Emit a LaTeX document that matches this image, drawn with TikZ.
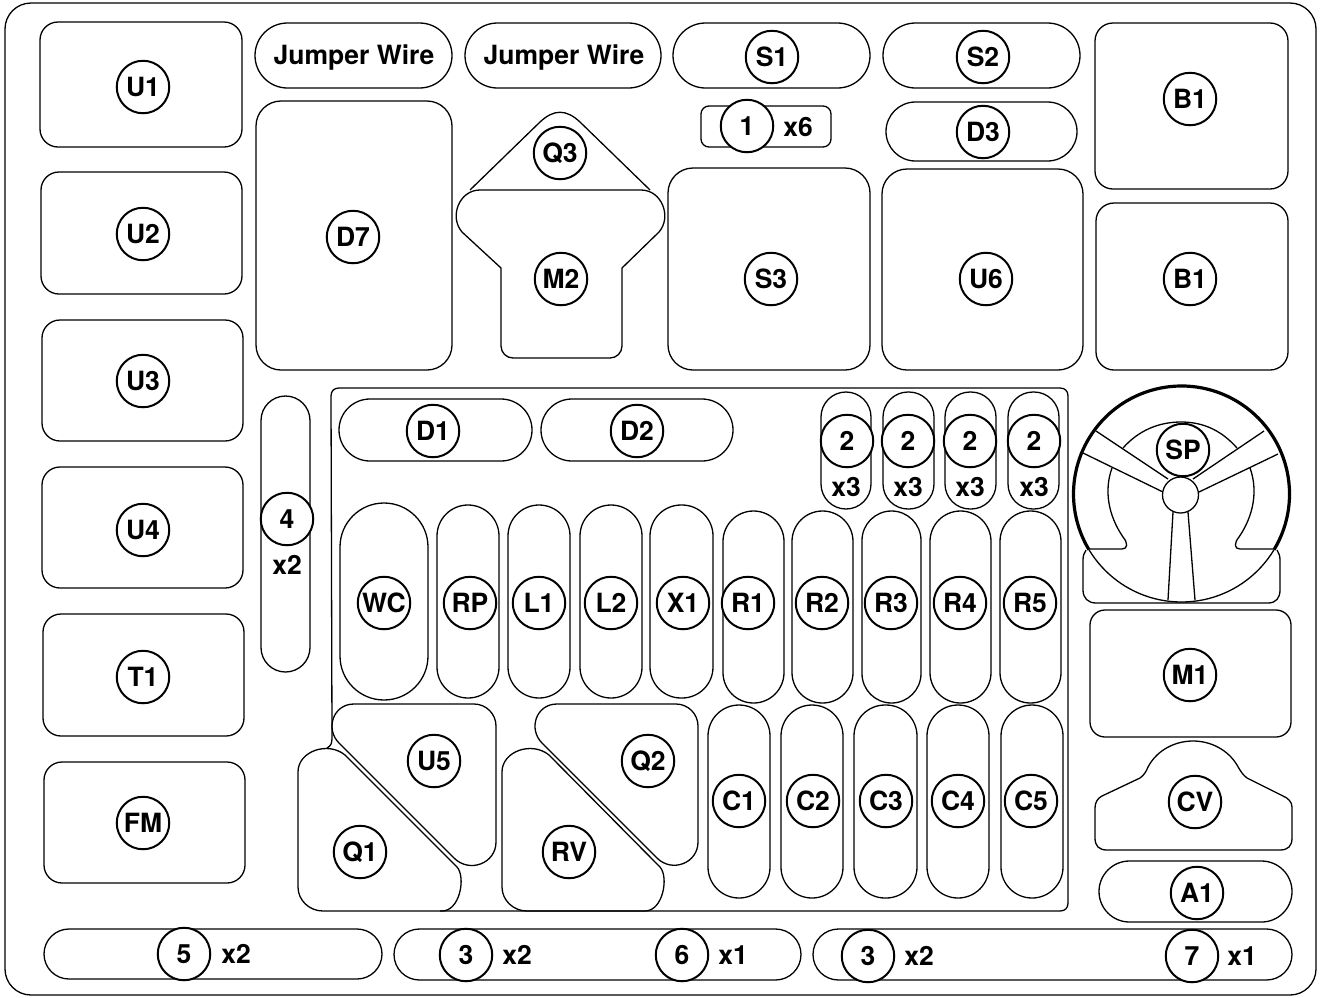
\documentclass[tikz,border=0pt]{standalone}
\usepackage{fontspec}
\setmainfont{TeX Gyre Heros}
\usetikzlibrary{calc}
\tikzset{
  part/.style={draw=black,line width=1.3pt,line join=round},
  lbl/.style={circle,draw=black,fill=white,line width=2pt,minimum size=52.5pt,inner sep=0pt,text height=19pt,text depth=0pt,font=\fontsize{26.5}{30}\bfseries\selectfont},
  txt/.style={inner sep=0pt,text height=19pt,text depth=0pt,font=\fontsize{26.5}{30}\bfseries\selectfont}
}
\newcommand\bx[5]{\draw[part,rounded corners=#5pt] (#1,#2) rectangle (#3,#4);}
\def\rndc#1#2#3#4{-- (#1) .. controls ($(#1)!#4!(#2)$) and ($(#3)!#4!(#2)$) .. (#3)}
\begin{document}
\begin{tikzpicture}[x=1pt,y=-1pt]
\useasboundingbox (0,0) rectangle (1323,997);
% outer frame
\bx{5}{3}{1316}{995}{26}
% left column
\bx{40}{22}{242}{147}{18}
\bx{41}{172}{242}{294}{18}
\bx{42}{320}{243}{441}{18}
\bx{42}{467}{243}{588}{18}
\bx{43}{614}{244}{736}{18}
\bx{44}{762}{245}{883}{18}
% top row
\bx{255}{23}{452}{88}{32.5}
\bx{465}{23}{661}{88}{32.5}
\bx{673}{23}{870}{88}{32.5}
\bx{883}{23}{1080}{88}{32.5}
\bx{1095}{23}{1288}{189}{18}
\bx{1096}{203}{1288}{370}{18}
\bx{701}{106}{831}{147}{8}
\bx{886}{102}{1077}{161}{29.5}
\bx{668}{168}{870}{370}{25}
\bx{882}{169}{1083}{370}{25}
\bx{256}{101}{452}{370}{25}
% Q3 and M2
\draw[part] (470,190) -- (540,122) .. controls (554,109) and (566,109) .. (580,122) -- (650,190);
\draw[part] (480,190) -- (641,190) .. controls (662,190) and (672,217) .. (659,232)
  -- (622,268) \rndc{622,346}{622,358}{610,358}{.55} \rndc{513,358}{501,358}{501,346}{.55}
  -- (501,268) -- (462,232) .. controls (449,217) and (459,190) .. (480,190) -- cycle;
% bottom row
\bx{44}{929}{382}{979}{25}
\bx{394}{929}{801}{980}{25.5}
\bx{813}{929}{1292}{980}{25.5}
\bx{1099}{861}{1292}{922}{30.5}
\bx{1090}{610}{1291}{737}{15}
% CV
\draw[part] (1107,850) -- (1280,850) .. controls (1288,850) and (1292,846) .. (1292,838)
  -- (1292,807) .. controls (1292,802) and (1288,798) .. (1283,796)
  -- (1247,778) .. controls (1243,775) and (1241,772) .. (1237,765)
  .. controls (1228,750) and (1211,741) .. (1193,741)
  .. controls (1175,741) and (1157,750) .. (1148,767)
  .. controls (1146,772) and (1144,775) .. (1140,778)
  -- (1102,796) .. controls (1098,798) and (1095,802) .. (1095,808)
  -- (1095,838) .. controls (1095,846) and (1099,850) .. (1107,850) -- cycle;
% large tray
\draw[part] (327,748) .. controls (331,746) and (332,743) .. (332,738) -- (331,396)
  .. controls (331,391) and (334,388) .. (339,388) -- (1060,388)
  .. controls (1065,388) and (1068,391) .. (1068,396) -- (1068,903)
  .. controls (1068,908) and (1065,911) .. (1060,911) -- (440,911);
\bx{261}{396}{310}{672}{24.5}
\bx{339}{399}{532}{461}{31}
\bx{541}{399}{733}{461}{31}
\bx{821}{392}{871}{509}{25}
\bx{883}{392}{934}{509}{25}
\bx{945}{392}{996}{509}{25}
\bx{1008}{392}{1059}{509}{25}
\bx{340}{503}{428}{700}{44}
\bx{437}{505}{499}{698}{31}
\bx{508}{505}{570}{698}{31}
\bx{580}{505}{642}{698}{31}
\bx{650}{505}{713}{698}{31}
\bx{723}{511}{784}{703}{30.5}
\bx{792}{511}{853}{703}{30.5}
\bx{862}{511}{921}{703}{29.5}
\bx{930}{511}{991}{703}{30.5}
\bx{1000}{511}{1061}{703}{30.5}
\bx{708}{705}{770}{898}{31}
\bx{781}{705}{843}{898}{31}
\bx{854}{705}{917}{898}{31}
\bx{927}{705}{989}{898}{31}
\bx{1001}{705}{1063}{898}{31}
% U5
\draw[part] (420,704) \rndc{474,704}{496,704}{496,726}{.55} \rndc{496,842}{496,900}{454,858}{.369}
  -- (339,743) .. controls (325,729) and (333,704) .. (354,704) -- cycle;
% Q2
\draw[part] (620,704) \rndc{676,704}{698,704}{698,726}{.55} \rndc{698,842}{698,899}{657,858}{.369}
  -- (542,743) .. controls (528,729) and (536,704) .. (557,704) -- cycle;
% Q1
\draw[part] (298,830) -- (298,772) .. controls (298,751) and (328,741) .. (345,755)
  -- (457,867) .. controls (466,877) and (460,911) .. (442,911)
  \rndc{323,911}{298,911}{298,887}{.55} -- cycle;
% RV
\draw[part] (502,830) -- (502,772) .. controls (502,751) and (532,741) .. (549,755)
  -- (660,867) .. controls (669,877) and (663,911) .. (645,911)
  \rndc{527,911}{502,911}{502,887}{.55} -- cycle;
% speaker
\coordinate (spc) at (1181.5,494);
\draw[part] (spc) circle[radius=108];
\draw[black,line width=3.2pt] (spc) ++(31:108) arc[start angle=31,end angle=-211,radius=108];
\draw[part] (1086,550) .. controls (1084,553) and (1083,556) .. (1083,560) -- (1083,590)
  .. controls (1083,598) and (1088,603) .. (1096,603) -- (1268,603)
  .. controls (1276,603) and (1280,598) .. (1280,590) -- (1280,560)
  .. controls (1280,556) and (1279,553) .. (1277,550);
\draw[part] (1096,431) -- (1168,479);
\draw[part] (1083,453) -- (1163,492);
\draw[part] (1264,431) -- (1193,479);
\draw[part] (1278,454) -- (1199,492);
\draw[part] (1173,512) -- (1168,600);
\draw[part] (1188,512) -- (1195,600);
\draw[part] (1123,448) .. controls (1138,431) and (1158,422) .. (1181,422) .. controls (1204,422) and (1222,431) .. (1237,448);
\draw[part] (1112,468) .. controls (1104,490) and (1108,515) .. (1123,537)
  .. controls (1128,543) and (1128,549) .. (1122,549) -- (1090,549);
\draw[part] (1250,468) .. controls (1258,490) and (1254,515) .. (1239,537)
  .. controls (1234,543) and (1234,549) .. (1240,549) -- (1273,549);
\node[circle,draw=black,fill=white,line width=1.3pt,minimum size=36pt,inner sep=0pt] (hub) at (1180.5,495) {};
% labels
\node[lbl] (u1) at (143,87) {U1};
\node[lbl] (u2) at (143,234) {U2};
\node[lbl] (u3) at (143,381) {U3};
\node[lbl] (u4) at (143,530) {U4};
\node[lbl] (t1) at (143,677) {T1};
\node[lbl] (fm) at (143,823) {FM};
\node[txt] (jw1) at (354,55) {Jumper Wire};
\node[txt] (jw2) at (564,55) {Jumper Wire};
\node[lbl] (d7) at (353,237) {D7};
\node[lbl] (q3) at (560,153) {Q3};
\node[lbl] (m2) at (561,279) {M2};
\node[lbl] (s1) at (772,57) {S1};
\node[lbl] (s2) at (983,57) {S2};
\node[lbl] (d3) at (983,132) {D3};
\node[lbl] (n1) at (747,126) {1};
\node[txt] (x6) at (798,127) {x6};
\node[lbl] (s3) at (771,279) {S3};
\node[lbl] (u6) at (986,279) {U6};
\node[lbl] (b1a) at (1190,99) {B1};
\node[lbl] (b1b) at (1190,279) {B1};
\node[lbl] (sp) at (1183,450) {SP};
\node[lbl] (m1) at (1190,675) {M1};
\node[lbl] (cv) at (1195,802) {CV};
\node[lbl] (a1) at (1197,893) {A1};
\node[lbl] (d1) at (433,431) {D1};
\node[lbl] (d2) at (637,431) {D2};
\node[lbl] (n2a) at (847,441) {2};
\node[lbl] (n2b) at (908,441) {2};
\node[lbl] (n2c) at (970,441) {2};
\node[lbl] (n2d) at (1034,441) {2};
\node[txt] (x3a) at (846,487) {x3};
\node[txt] (x3b) at (908,487) {x3};
\node[txt] (x3c) at (970,487) {x3};
\node[txt] (x3d) at (1034,487) {x3};
\node[lbl] (n4) at (287,519) {4};
\node[txt] (x2a) at (287,565) {x2};
\node[lbl] (wc) at (384,603) {WC};
\node[lbl] (rp) at (470,603) {RP};
\node[lbl] (l1) at (539,603) {L1};
\node[lbl] (l2) at (611,603) {L2};
\node[lbl] (x1) at (683,603) {X1};
\node[lbl] (r1) at (748,603) {R1};
\node[lbl] (r2) at (822,603) {R2};
\node[lbl] (r3) at (891,603) {R3};
\node[lbl] (r4) at (960,603) {R4};
\node[lbl] (r5) at (1030,603) {R5};
\node[lbl] (c1) at (739,801) {C1};
\node[lbl] (c2) at (813,801) {C2};
\node[lbl] (c3) at (886,801) {C3};
\node[lbl] (c4) at (958,801) {C4};
\node[lbl] (c5) at (1031,801) {C5};
\node[lbl] (u5) at (434,761) {U5};
\node[lbl] (q2) at (648,761) {Q2};
\node[lbl] (q1) at (360,852) {Q1};
\node[lbl] (rv) at (569,852) {RV};
\node[lbl] (n5) at (184,954) {5};
\node[txt] (x2b) at (236,954) {x2};
\node[lbl] (n3a) at (466,955) {3};
\node[txt] (x2c) at (517,955) {x2};
\node[lbl] (n6) at (682,955) {6};
\node[txt] (x1a) at (733,955) {x1};
\node[lbl] (n3b) at (868,956) {3};
\node[txt] (x2d) at (919,956) {x2};
\node[lbl] (n7) at (1192,956) {7};
\node[txt] (x1b) at (1242,956) {x1};
\end{tikzpicture}
\end{document}
